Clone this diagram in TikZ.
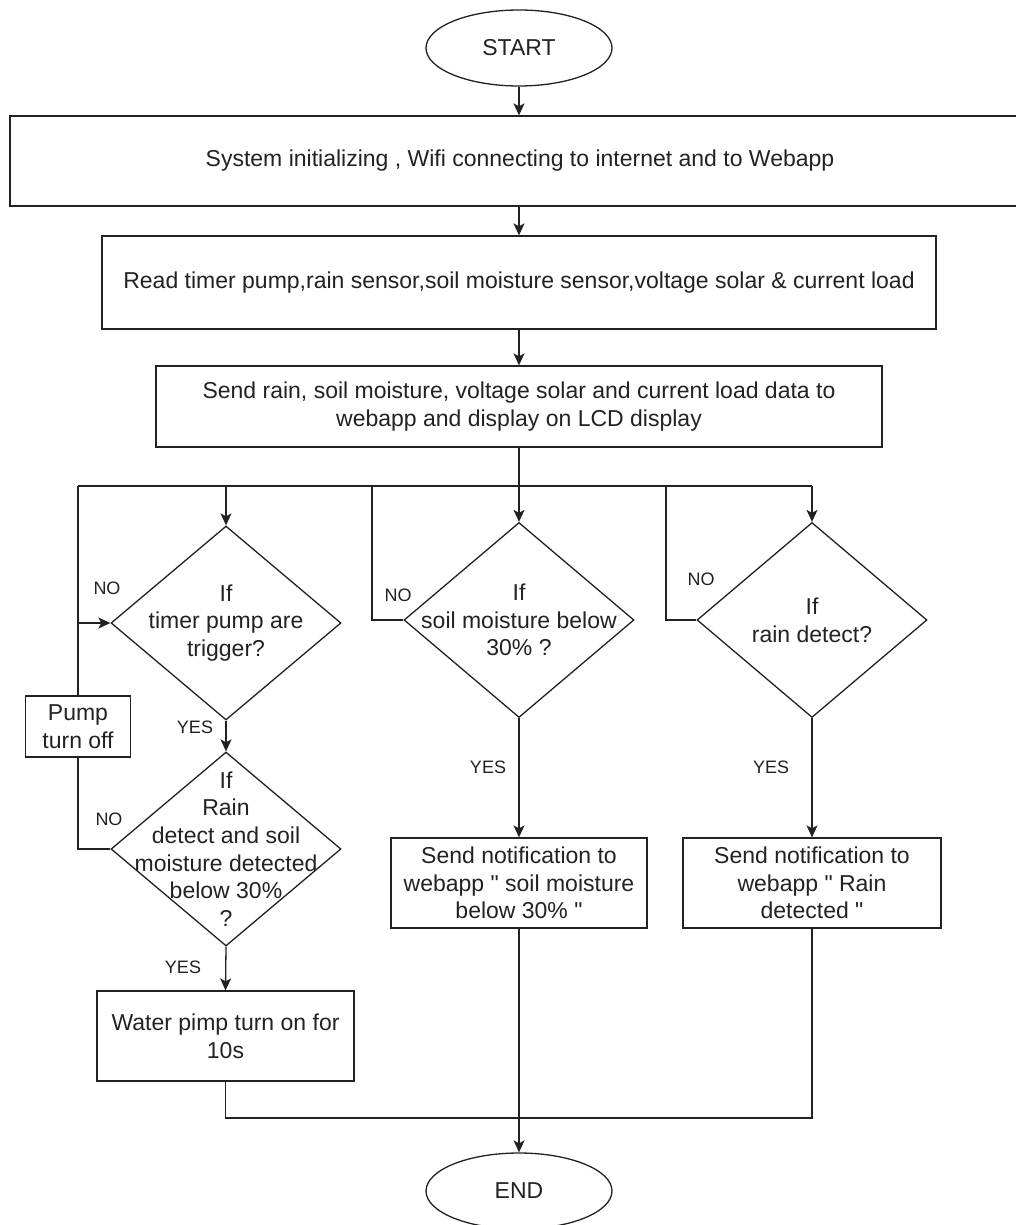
\documentclass[tikz,border=0pt]{standalone}
\usepackage{fontspec}
\setmainfont{Liberation Sans}[Ligatures=TeXOff]
\usetikzlibrary{shapes.geometric,arrows.meta}
\definecolor{ink}{HTML}{222222}
\tikzset{
  basefont/.style={font=\fontsize{23}{27.6}\selectfont},
  box/.style={draw=ink, rectangle, inner sep=0pt, align=center, basefont, text=ink},
  term/.style={draw=ink, ellipse, inner sep=0pt, basefont, text=ink},
  dia/.style={draw=ink, diamond, inner sep=0pt},
  txt/.style={align=center, basefont, text=ink},
  lbl/.style={font=\fontsize{18}{21}\selectfont, text=ink},
  arr/.style={-{Stealth[length=12pt,width=11pt,inset=3pt]}},
  conn/.style={draw=ink, line width=1.3pt},
}
\begin{document}
\begin{tikzpicture}[x=1pt,y=-1pt, line width=1.3pt]
\useasboundingbox[fill=white] (0,0) rectangle (1016,1225);

% terminals and boxes
\node[term, minimum width=186pt, minimum height=76pt] (start) at (519,48) {START};
\node[box, minimum width=1020pt, minimum height=90pt] (b1) at (520,161) {System initializing , Wifi connecting to internet and to Webapp};
\node[box, minimum width=834pt, minimum height=93pt] (b2) at (519,282.5) {Read timer pump,rain sensor,soil moisture sensor,voltage solar \& current load};
\node[box, minimum width=726pt, minimum height=81pt] (b3) at (519,406.5) {Send rain, soil moisture, voltage solar and current load data to\\webapp and display on LCD display};

% decisions
\node[dia, minimum width=230pt, minimum height=194pt] (d1) at (226,623) {};
\node[txt] (t1) at (d1) {If\\timer pump are\\trigger?};
\node[dia, minimum width=230pt, minimum height=195pt] (d2) at (519,620) {};
\node[txt] (t2) at (d2) {If\\soil moisture below\\30\% ?};
\node[dia, minimum width=230pt, minimum height=195pt] (d3) at (812,620) {};
\node[txt] (t3) at (d3) {If\\rain detect?};
\node[dia, minimum width=230pt, minimum height=194pt] (d4) at (226,849) {};
\node[txt] (t4) at (d4) {If\\Rain\\detect and soil\\moisture detected\\below 30\%\\?};

% other boxes
\node[box, minimum width=105pt, minimum height=61pt] (pump) at (78,726.5) {Pump\\turn off};
\node[box, minimum width=257pt, minimum height=90pt] (water) at (225.5,1036) {Water pimp turn on for\\10s};
\node[box, minimum width=256pt, minimum height=90pt] (n2) at (519,883) {Send notification to\\webapp " soil moisture\\below 30\% "};
\node[box, minimum width=258pt, minimum height=90pt] (n3) at (812,883) {Send notification to\\webapp " Rain\\detected "};
\node[term, minimum width=186pt, minimum height=76pt] (end) at (519,1191) {END};

% helper coordinates
\coordinate (barL) at (78,486);
\coordinate (barR) at (812,486);
\coordinate (c2) at (372,486);
\coordinate (c3) at (666,486);
\coordinate (bot) at (0,1118);

% connectors
\draw[conn, arr] (start.south) -- (start.south |- b1.north);
\draw[conn, arr] (b1.south -| b2.north) -- (b2.north);
\draw[conn, arr] (b2.south) -- (b3.north);
\draw[conn, arr] (b3.south) -- (d2.north);
\draw[conn] (barL) -- (barR);
\draw[conn, arr] (d1.north |- barL) -- (d1.north);
\draw[conn, arr] (barR) -- (d3.north);
\draw[conn] (d2.west) -| (c2);
\draw[conn] (d3.west) -| (c3);
\draw[conn] (pump.north) -- (barL);
\draw[conn, arr] (pump.north |- d1.west) -- (d1.west);
\draw[conn] (d4.west) -| (pump.south);
\draw[conn, arr] (d1.south) -- (d4.north);
\draw[conn, arr] (d4.south) -- (water.north);
\draw[conn, arr] (d2.south) -- (n2.north);
\draw[conn, arr] (d3.south) -- (n3.north);
\draw[conn, arr] (n2.south) -- (end.north);
\draw[conn] (water.south) |- (n3.south |- bot) -- (n3.south);

% labels
\node[lbl] (l1) at (107,588) {NO};
\node[lbl] (l2) at (195,727) {YES};
\node[lbl] (l3) at (109,819) {NO};
\node[lbl] (l4) at (183,967) {YES};
\node[lbl] (l5) at (398,595) {NO};
\node[lbl] (l6) at (701,579) {NO};
\node[lbl] (l7) at (488,767) {YES};
\node[lbl] (l8) at (771,767) {YES};
\end{tikzpicture}
\end{document}
